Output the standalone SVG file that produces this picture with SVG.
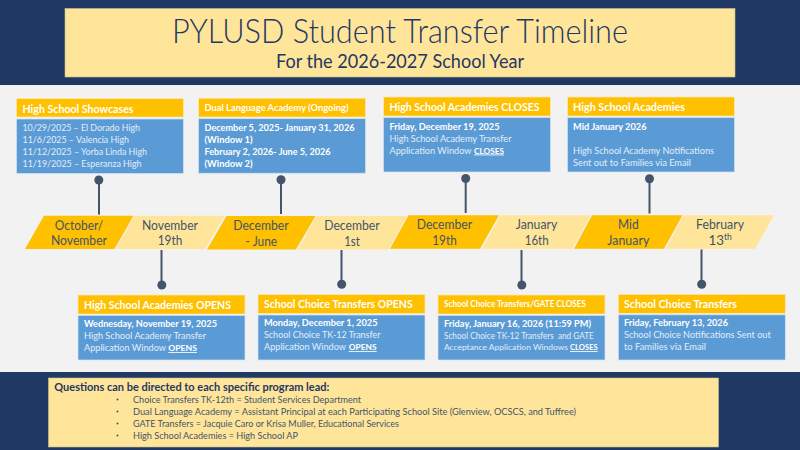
<svg xmlns="http://www.w3.org/2000/svg" width="800" height="450" viewBox="0 0 800 450">
<style>
text{font-family:"Lato","Open Sans","Liberation Sans",sans-serif}
.bar{fill:#1f3864}
.ybox{fill:#ffe599;stroke:#c9c08a;stroke-width:.6}
.t1{font-size:33px;font-weight:300;fill:#1f3864}
.t2{font-size:18.500px;fill:#1f3864}
.h{fill:#ffc000;stroke:#fbe9bd;stroke-width:.7}
.b{fill:#5b9bd5;stroke:#d5e4f2;stroke-width:.7}
.ht{font-size:11.500px;font-weight:700;fill:#fff}
.hs{font-size:9.300px;font-weight:700;fill:#fff}
.bt{font-size:9.400px;fill:#e2edf8}
.bt2{font-size:9px;fill:#e2edf8}
.bb{font-size:9.400px;font-weight:700;fill:#fff}
.bs{font-size:8.800px;fill:#e2edf8}
.bs2{font-size:8.400px;fill:#e2edf8}
.u{font-size:8.400px;font-weight:700;fill:#fff;text-decoration:underline}
.d{fill:#ffc000}
.l{fill:#ffe599}
.sl{font-size:13.300px;fill:#44546a;text-anchor:middle}
.sm{font-size:13.300px;fill:#44546a}
.sup{font-size:8.500px;fill:#44546a}
.ln{stroke:#44546a;stroke-width:2;fill:none}
.dot{fill:#44546a}
.q{font-size:11.500px;font-weight:700;fill:#1f3864}
.qi{font-size:10px;fill:#44546a}
</style>
<rect width="800" height="450" fill="#f2f2f2"/>
<rect class="bar" width="800" height="85"/>
<rect class="bar" y="372" width="800" height="78"/>
<g id="title">
<rect class="ybox" x="65" y="8.500" width="670" height="68.500"/>
<text class="t1" x="172" y="43" textLength="456" lengthAdjust="spacingAndGlyphs">PYLUSD Student Transfer Timeline</text>
<text class="t2" x="276" y="68" textLength="248" lengthAdjust="spacingAndGlyphs">For the 2026-2027 School Year</text>
</g>
<g id="connectors">
<path class="ln" d="M99 180V214.500M281 180V214M465.700 178.500V213M649.500 179V213.500M161.500 250V285M341.500 250V284M521.500 250V285M701.500 249.500V284"/>
<circle class="dot" cx="98.800" cy="180" r="4.500"/><circle class="dot" cx="281" cy="179.800" r="4.500"/><circle class="dot" cx="465.700" cy="178.500" r="4.500"/><circle class="dot" cx="649.500" cy="178.800" r="4.500"/>
<circle class="dot" cx="161.800" cy="285" r="4.500"/><circle class="dot" cx="341.700" cy="284.300" r="4.500"/><circle class="dot" cx="521.800" cy="285" r="4.500"/><circle class="dot" cx="701.700" cy="284.300" r="4.500"/>
</g>
<g id="seg1"><polygon class="d" points="44,215.700 133.500,215.700 114.500,249 25,249"/><text class="sl" x="79" y="229.500" textLength="48.500" lengthAdjust="spacingAndGlyphs">October/</text><text class="sl" x="79" y="245" textLength="56" lengthAdjust="spacingAndGlyphs">November</text></g>
<g id="seg2"><polygon class="l" points="134.500,215.700 224.500,215.700 205,249 116,249"/><text class="sl" x="170" y="229.500" textLength="56" lengthAdjust="spacingAndGlyphs">November</text><text class="sl" x="170" y="245" textLength="24.500" lengthAdjust="spacingAndGlyphs">19th</text></g>
<g id="seg3"><polygon class="d" points="226.500,216 315.500,216 296,249.500 207,249.500"/><text class="sl" x="261" y="230" textLength="55.500" lengthAdjust="spacingAndGlyphs">December</text><text class="sl" x="261.300" y="246" textLength="31.500" lengthAdjust="spacingAndGlyphs">- June</text></g>
<g id="seg4"><polygon class="l" points="316.500,216 407,216 388.500,249.500 298,249.500"/><text class="sl" x="352" y="230" textLength="55.500" lengthAdjust="spacingAndGlyphs">December</text><text class="sl" x="352" y="246" textLength="15.700" lengthAdjust="spacingAndGlyphs">1st</text></g>
<g id="seg5"><polygon class="d" points="408.500,215.300 499,215.300 480,248.700 390,248.700"/><text class="sl" x="444.500" y="229.300" textLength="55.500" lengthAdjust="spacingAndGlyphs">December</text><text class="sl" x="444.500" y="245" textLength="24.500" lengthAdjust="spacingAndGlyphs">19th</text></g>
<g id="seg6"><polygon class="l" points="500.500,215.300 590.500,215.300 572.500,248.700 482,248.700"/><text class="sl" x="536.500" y="229.300" textLength="41.500" lengthAdjust="spacingAndGlyphs">January</text><text class="sl" x="536.700" y="245" textLength="24" lengthAdjust="spacingAndGlyphs">16th</text></g>
<g id="seg7"><polygon class="d" points="592,215.300 682.500,215.300 664,248.700 574,248.700"/><text class="sl" x="628.300" y="229.300" textLength="20.700" lengthAdjust="spacingAndGlyphs">Mid</text><text class="sl" x="628.300" y="245" textLength="42" lengthAdjust="spacingAndGlyphs">January</text></g>
<g id="seg8"><polygon class="l" points="683.500,215.300 774,215.300 755,248.700 666,248.700"/><text class="sl" x="720" y="229.300" textLength="48" lengthAdjust="spacingAndGlyphs">February</text><text class="sm" x="708.500" y="245">13</text><text class="sup" x="724" y="239.500">th</text></g>
<g id="card-showcases"><rect class="h" x="16.500" y="98.500" width="167" height="18.500"/><rect class="b" x="16.500" y="119" width="167" height="54.500"/>
<text class="ht" x="22.500" y="113" textLength="111" lengthAdjust="spacingAndGlyphs">High School Showcases</text>
<text class="bt" x="22.500" y="131" textLength="117.500" lengthAdjust="spacingAndGlyphs">10/29/2025 – El Dorado High</text>
<text class="bt" x="22.500" y="143" textLength="106.500" lengthAdjust="spacingAndGlyphs">11/6/2025 – Valencia High</text>
<text class="bt" x="22.500" y="155" textLength="124.500" lengthAdjust="spacingAndGlyphs">11/12/2025 – Yorba Linda High</text>
<text class="bt" x="22.500" y="167" textLength="119" lengthAdjust="spacingAndGlyphs">11/19/2025 – Esperanza High</text></g>
<g id="card-dual"><rect class="h" x="198.500" y="98.200" width="167" height="18.800"/><rect class="b" x="198.500" y="118.700" width="167" height="54.500"/>
<text class="hs" x="204.500" y="110.500" textLength="144" lengthAdjust="spacingAndGlyphs">Dual Language Academy (Ongoing)</text>
<text class="bb" x="204.500" y="131" textLength="150" lengthAdjust="spacingAndGlyphs">December 5, 2025- January 31, 2026</text>
<text class="bb" x="204.500" y="143" textLength="48" lengthAdjust="spacingAndGlyphs">(Window 1)</text>
<text class="bb" x="204.500" y="155" textLength="126" lengthAdjust="spacingAndGlyphs">February 2, 2026- June 5, 2026</text>
<text class="bb" x="204.500" y="167" textLength="48" lengthAdjust="spacingAndGlyphs">(Window 2)</text></g>
<g id="card-closes"><rect class="h" x="383.500" y="97" width="167" height="19"/><rect class="b" x="383.500" y="117.500" width="167" height="54.500"/>
<text class="ht" x="389.500" y="111" textLength="150" lengthAdjust="spacingAndGlyphs">High School Academies CLOSES</text>
<text class="bb" x="389.500" y="129.500" textLength="110" lengthAdjust="spacingAndGlyphs">Friday, December 19, 2025</text>
<text class="bt" x="389.500" y="141.500" textLength="122" lengthAdjust="spacingAndGlyphs">High School Academy Transfer</text>
<text class="bt2" x="389.500" y="153.500" textLength="82" lengthAdjust="spacingAndGlyphs">Application Window</text>
<text class="u" x="474" y="153.500" textLength="30" lengthAdjust="spacingAndGlyphs">CLOSES</text></g>
<g id="card-notify"><rect class="h" x="567.500" y="97" width="167" height="19"/><rect class="b" x="567.500" y="117.500" width="167" height="54.500"/>
<text class="ht" x="573" y="111" textLength="112" lengthAdjust="spacingAndGlyphs">High School Academies</text>
<text class="bb" x="573" y="129.500" textLength="73.500" lengthAdjust="spacingAndGlyphs">Mid January 2026</text>
<text class="bt" x="573" y="153.500" textLength="141" lengthAdjust="spacingAndGlyphs">High School Academy Notifications</text>
<text class="bt" x="573" y="165.500" textLength="118" lengthAdjust="spacingAndGlyphs">Sent out to Families via Email</text></g>
<g id="card-opens"><rect class="h" x="78" y="295" width="167" height="19"/><rect class="b" x="78" y="315.500" width="167" height="44.500"/>
<text class="ht" x="84" y="309" textLength="147" lengthAdjust="spacingAndGlyphs">High School Academies OPENS</text>
<text class="bb" x="84" y="327" textLength="133" lengthAdjust="spacingAndGlyphs">Wednesday, November 19, 2025</text>
<text class="bt" x="84" y="339" textLength="122" lengthAdjust="spacingAndGlyphs">High School Academy Transfer</text>
<text class="bt2" x="84" y="351" textLength="82" lengthAdjust="spacingAndGlyphs">Application Window</text>
<text class="u" x="168.300" y="351" textLength="28.700" lengthAdjust="spacingAndGlyphs">OPENS</text></g>
<g id="card-choice-opens"><rect class="h" x="258" y="294.500" width="167" height="19"/><rect class="b" x="258" y="315" width="167" height="45"/>
<text class="ht" x="264" y="308.300" textLength="148.700" lengthAdjust="spacingAndGlyphs">School Choice Transfers OPENS</text>
<text class="bb" x="264" y="326" textLength="113.500" lengthAdjust="spacingAndGlyphs">Monday, December 1, 2025</text>
<text class="bt" x="264" y="338" textLength="116.500" lengthAdjust="spacingAndGlyphs">School Choice TK-12 Transfer</text>
<text class="bt2" x="264" y="350" textLength="82" lengthAdjust="spacingAndGlyphs">Application Window</text>
<text class="u" x="348.700" y="350" textLength="28" lengthAdjust="spacingAndGlyphs">OPENS</text></g>
<g id="card-choice-closes"><rect class="h" x="438" y="295" width="167" height="19"/><rect class="b" x="438" y="315.500" width="167" height="44.500"/>
<text class="hs" x="444" y="306.500" textLength="142" lengthAdjust="spacingAndGlyphs">School Choice Transfers/GATE CLOSES</text>
<text class="bb" x="444" y="327" textLength="147" lengthAdjust="spacingAndGlyphs">Friday, January 16, 2026 (11:59 PM)</text>
<text class="bs" x="444" y="338.700" textLength="149.700" lengthAdjust="spacingAndGlyphs" xml:space="preserve">School Choice TK-12 Transfers  and GATE</text>
<text class="bs2" x="444" y="350" textLength="124" lengthAdjust="spacingAndGlyphs">Acceptance Application Windows</text>
<text class="u" x="570" y="350" textLength="27.700" lengthAdjust="spacingAndGlyphs">CLOSES</text></g>
<g id="card-choice-notify"><rect class="h" x="618.300" y="294.300" width="167" height="19"/><rect class="b" x="618.300" y="314.800" width="167" height="45.200"/>
<text class="ht" x="624" y="308.300" textLength="113" lengthAdjust="spacingAndGlyphs">School Choice Transfers</text>
<text class="bb" x="624" y="326" textLength="104" lengthAdjust="spacingAndGlyphs">Friday, February 13, 2026</text>
<text class="bt" x="624" y="338" textLength="146.700" lengthAdjust="spacingAndGlyphs">School Choice Notifications Sent out</text>
<text class="bt" x="624" y="350" textLength="82" lengthAdjust="spacingAndGlyphs">to Families via Email</text></g>
<g id="questions"><rect class="ybox" x="48.500" y="378" width="670" height="69"/>
<text class="q" x="54.300" y="390.700" textLength="275" lengthAdjust="spacingAndGlyphs">Questions can be directed to each specific program lead:</text>
<circle class="dot" cx="117.500" cy="399.500" r="1"/><circle class="dot" cx="117.500" cy="411.500" r="1"/><circle class="dot" cx="117.500" cy="423.500" r="1"/><circle class="dot" cx="117.500" cy="435.500" r="1"/>
<text class="qi" x="133" y="402.700" textLength="228" lengthAdjust="spacingAndGlyphs">Choice Transfers TK-12th = Student Services Department</text>
<text class="qi" x="133" y="414.700" textLength="443" lengthAdjust="spacingAndGlyphs">Dual Language Academy = Assistant Principal at each Participating School Site (Glenview, OCSCS, and Tuffree)</text>
<text class="qi" x="133" y="426.700" textLength="266" lengthAdjust="spacingAndGlyphs">GATE Transfers = Jacquie Caro or Krisa Muller, Educational Services</text>
<text class="qi" x="133" y="438.700" textLength="165" lengthAdjust="spacingAndGlyphs">High School Academies = High School AP</text>
</g>
</svg>
